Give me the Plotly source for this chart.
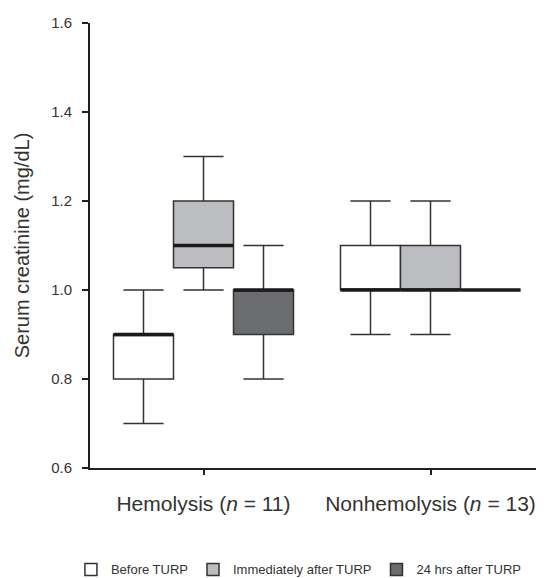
import plotly.graph_objects as go

categories = ["Hemolysis (<i>n</i> = 11)", "Nonhemolysis (<i>n</i> = 13)"]
series_names = ["Before TURP", "Immediately after TURP", "24 hrs after TURP"]

before_low = [0.7, 0.9]
before_q1 = [0.8, 1.0]
before_med = [0.9, 1.0]
before_q3 = [0.9, 1.1]
before_high = [1.0, 1.2]

immed_low = [1.0, 0.9]
immed_q1 = [1.05, 1.0]
immed_med = [1.1, 1.0]
immed_q3 = [1.2, 1.1]
immed_high = [1.3, 1.2]

h24_low = [0.8, 1.0]
h24_q1 = [0.9, 1.0]
h24_med = [1.0, 1.0]
h24_q3 = [1.0, 1.0]
h24_high = [1.1, 1.0]

y_ticks = [0.6, 0.8, 1.0, 1.2, 1.4, 1.6]

fills = ["#ffffff", "#bcbdc0", "#6b6c70"]
outline = "#333333"
median_color = "#1a1a1a"

stats = [
    (before_low, before_q1, before_med, before_q3, before_high),
    (immed_low, immed_q1, immed_med, immed_q3, immed_high),
    (h24_low, h24_q1, h24_med, h24_q3, h24_high),
]

fig = go.Figure()
for i, (lo, q1, med, q3, hi) in enumerate(stats):
    fig.add_trace(go.Box(
        name=series_names[i], x=categories,
        lowerfence=lo, q1=q1, median=med, q3=q3, upperfence=hi,
        fillcolor=fills[i], line=dict(color=outline, width=1.5),
        whiskerwidth=0.67, offsetgroup=str(i), boxpoints=False,
        hoverinfo="skip",
    ))
for i, (lo, q1, med, q3, hi) in enumerate(stats):
    fig.add_trace(go.Box(
        name=series_names[i] + " median", x=categories,
        lowerfence=med, q1=med, median=med, q3=med, upperfence=med,
        fillcolor="rgba(0,0,0,0)", line=dict(color=median_color, width=3.5),
        whiskerwidth=0, offsetgroup=str(i), boxpoints=False,
        showlegend=False, hoverinfo="skip",
    ))

fig.update_layout(
    width=536, height=570,
    margin=dict(l=82, r=0, t=15, b=110, autoexpand=False),
    paper_bgcolor="white", plot_bgcolor="white",
    boxmode="group", boxgap=0.207, boxgroupgap=0,
    font=dict(family="Liberation Sans, Arial, sans-serif", color="#333333"),
    showlegend=True,
    legend=dict(orientation="h", x=-0.042, xanchor="left", y=-0.228, yanchor="middle",
                font=dict(size=13, color="#333333"),
                traceorder="normal"),
)
fig.update_xaxes(
    type="category", range=[-0.5, 1.5],
    showline=True, linecolor="#231f20", linewidth=2,
    ticks="outside", ticklen=5, tickwidth=1.5, tickcolor="#231f20",
    tickfont=dict(size=21, color="#333333"), ticklabelstandoff=11,
    showgrid=False, zeroline=False,
)
fig.update_yaxes(
    range=[0.6, 1.6], tickvals=y_ticks, ticktext=[f"{v:.1f}" for v in y_ticks],
    showline=True, linecolor="#231f20", linewidth=2,
    ticks="outside", ticklen=6, tickwidth=1.5, tickcolor="#231f20",
    tickfont=dict(size=15, color="#333333"), ticklabelstandoff=7,
    title=dict(text="Serum creatinine (mg/dL)", font=dict(size=20, color="#333333"), standoff=16),
    showgrid=False, zeroline=False,
)

fig.write_html("out.html")
